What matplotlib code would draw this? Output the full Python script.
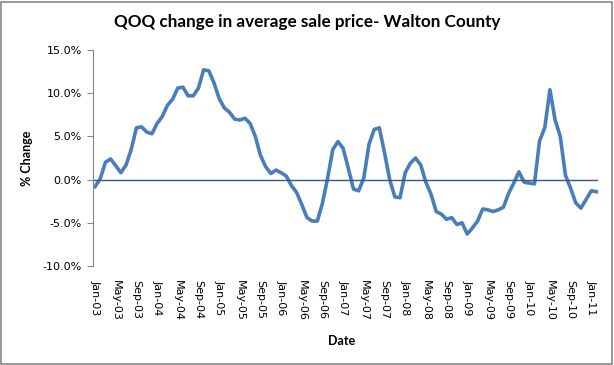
#import libraries
import matplotlib
matplotlib.use('Agg')
import matplotlib.pyplot as plt
from matplotlib.patches import Rectangle

#monthly QOQ change (%), Jan-03 .. Feb-11
qoq = [-0.8, 0.1, 2.0, 2.4, 1.6, 0.8, 1.7, 3.5, 6.0, 6.1, 5.5, 5.3,
       6.5, 7.3, 8.6, 9.3, 10.6, 10.7, 9.7, 9.7, 10.6, 12.7, 12.6, 11.2,
       9.4, 8.3, 7.8, 7.0, 6.9, 7.1, 6.5, 5.0, 2.8, 1.5, 0.7, 1.1,
       0.8, 0.4, -0.7, -1.5, -2.9, -4.4, -4.8, -4.8, -2.7, 0.2, 3.5, 4.4,
       3.6, 1.3, -1.1, -1.3, 0.2, 4.1, 5.8, 6.0, 3.1, 0.0, -2.0, -2.1,
       0.8, 1.9, 2.5, 1.7, -0.3, -1.7, -3.7, -4.0, -4.6, -4.4, -5.2, -5.0,
       -6.3, -5.6, -4.8, -3.4, -3.5, -3.7, -3.5, -3.2, -1.6, -0.4, 0.9, -0.3,
       -0.4, -0.5, 4.5, 6.0, 10.4, 6.9, 5.0, 0.5, -1.0, -2.7, -3.3, -2.3,
       -1.3, -1.4]
months = ['Jan', 'May', 'Sep']
years = ['03', '04', '05', '06', '07', '08', '09', '10', '11']
yticks = [-10, -5, 0, 5, 10, 15]

#tick labels every 4 months
xlabels = []
for y in years:
    for m in months:
        xlabels.append(m + '-' + y)
xlabels = xlabels[:25]
xpos = [i * 4 for i in range(len(xlabels))]

#draw figure
fig = plt.figure(figsize=(6.14, 3.65), dpi=100)
ax = fig.add_axes([93/614, 1-266/365, 505/614, 216/365])
ax.plot(range(len(qoq)), qoq, color='#4A7EBB', linewidth=2.6, solid_joinstyle='round')
ax.axhline(0, color='#2F5A8C', linewidth=1)

ax.set_xlim(-0.4, 97.3)
ax.set_ylim(-10, 15)
ax.set_yticks(yticks)
ax.set_yticklabels(['%.1f%%' % v for v in yticks], fontsize=8)
ax.set_xticks(xpos)
ax.set_xticklabels(xlabels, rotation=270, fontsize=8)
ax.tick_params(axis='x', length=0, pad=10)
ax.tick_params(axis='y', length=4, color='#868686', pad=4)

for s in ['top', 'right', 'bottom']:
    ax.spines[s].set_visible(False)
ax.spines['left'].set_color('#868686')

fig.text(307/614, 1-22/365, 'QOQ change in average sale price- Walton County',
         ha='center', va='center', fontsize=12.3, fontweight='bold', family='Lato')
fig.text(342/614, 1-341/365, 'Date', ha='center', va='center',
         fontsize=9, fontweight='bold', family='Lato')
fig.text(27/614, 1-158/365, '% Change', ha='center', va='center', rotation=90,
         fontsize=9, fontweight='bold', family='Lato')

#chart border
fig.patches.append(Rectangle((1/614, 1/365), 611/614, 362/365, transform=fig.transFigure,
                             fill=False, edgecolor='#868686', linewidth=1.2))

plt.savefig('out.png', dpi=100)
